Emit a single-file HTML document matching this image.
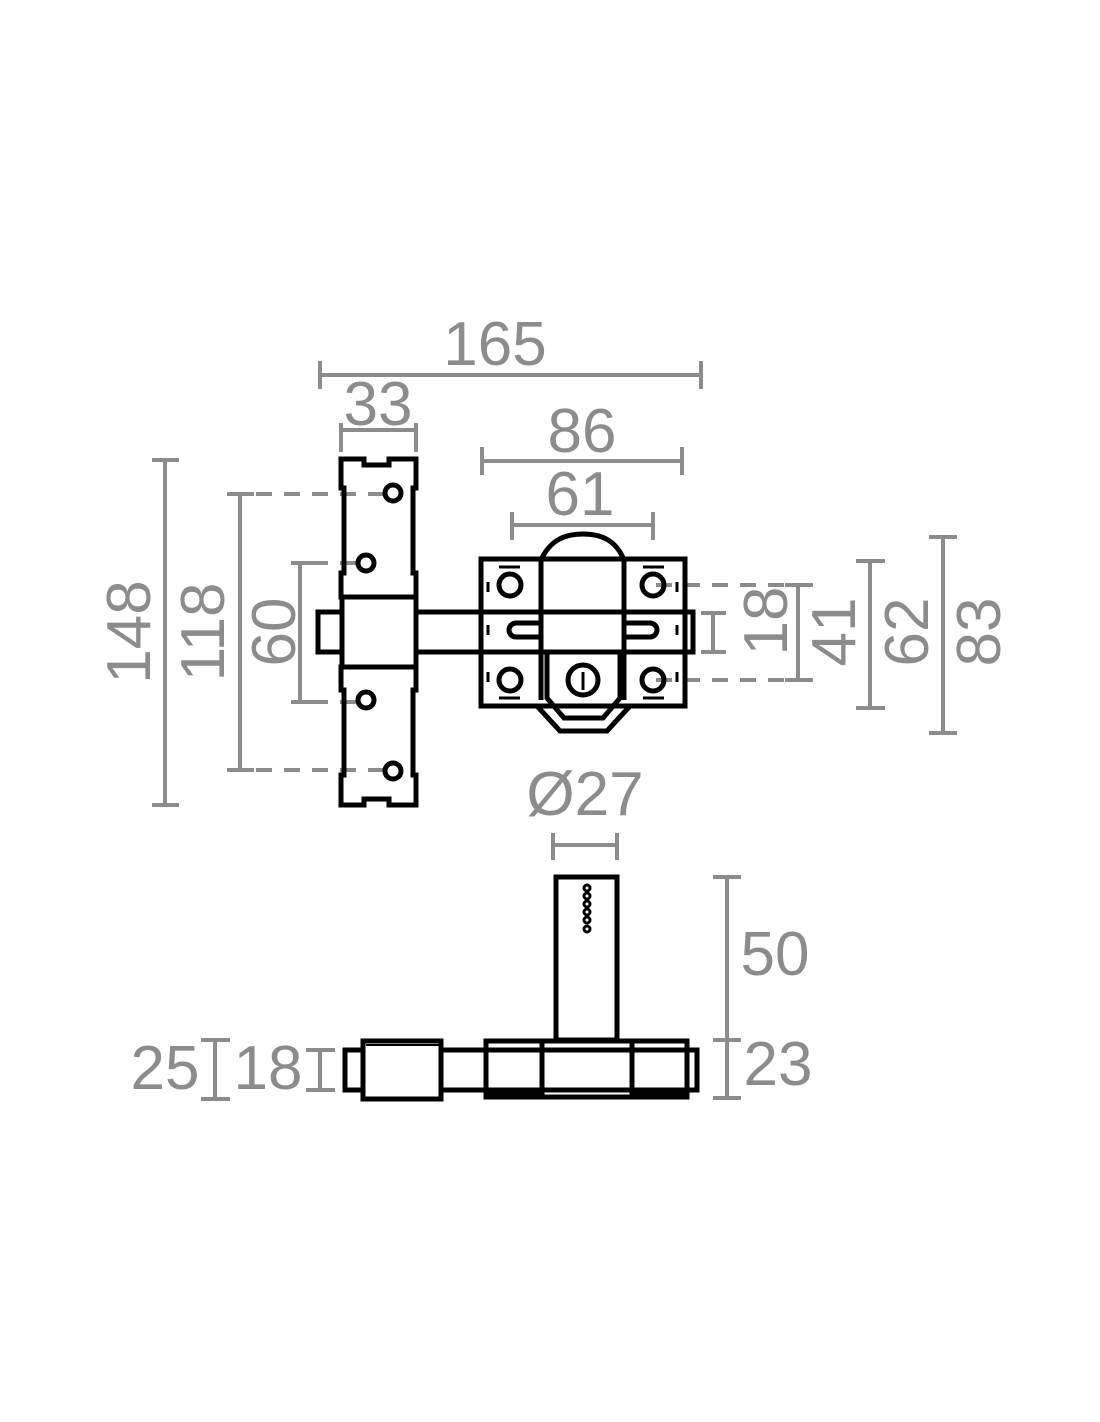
<!DOCTYPE html>
<html><head><meta charset="utf-8"><style>html,body{margin:0;padding:0;background:#fff}svg{display:block}</style></head>
<body>
<svg width="1100" height="1422" viewBox="0 0 1100 1422" xmlns="http://www.w3.org/2000/svg">
<g fill="none" stroke="#8c8c8c" stroke-width="4">
<path d="M320 375H701M320 361V389M701 361V389"/>
<path d="M341 430H416M341 423V452M416 423V452"/>
<path d="M482 461H682M482 447V475M682 447V475"/>
<path d="M512 525H653M512 512V540M653 512V540"/>
<path d="M165 460V805M152 460H179M152 805H179"/>
<path d="M240 494V770M227 494H254M227 770H254"/>
<path d="M300 563V702M291 563H312M291 702H312"/>
<path d="M713 613V652M701 613H726M701 652H726"/>
<path d="M798 585V680M785 585H813M785 680H813"/>
<path d="M870 561V708M856 561H885M856 708H885"/>
<path d="M943 537V733M929 537H957M929 733H957"/>
<path d="M553 845H617M553 833V860M617 833V860"/>
<path d="M727 877V1098M713 877H741M713 1040H741M713 1098H741"/>
<path d="M215 1040V1099M201 1040H230M201 1099H230"/>
<path d="M320 1050V1090M306 1050H335M306 1090H335"/>
<g stroke-dasharray="16 12">
<path d="M256 494H390M256 770H390M312 563H366M312 702H366"/>
<path d="M656 585H812M656 680H812"/>
</g>
</g>
<g fill="#8c8c8c" font-family="Liberation Sans, sans-serif" font-size="62" text-anchor="middle">
<text x="495" y="365">165</text>
<text x="378" y="425">33</text>
<text x="582" y="452">86</text>
<text x="580" y="515">61</text>
<text x="585" y="815">Ø27</text>
<text x="775" y="975">50</text>
<text x="778" y="1085">23</text>
<text x="165" y="1089">25</text>
<text x="268" y="1089">18</text>
<text transform="translate(150 632) rotate(-90)">148</text>
<text transform="translate(224 632) rotate(-90)">118</text>
<text transform="translate(295 632) rotate(-90)">60</text>
<text transform="translate(787 621) rotate(-90)">18</text>
<text transform="translate(855 632) rotate(-90)">41</text>
<text transform="translate(928 632) rotate(-90)">62</text>
<text transform="translate(1000 632) rotate(-90)">83</text>
</g>
<g fill="none" stroke="#000" stroke-width="5">
<path d="M341 459H364V465H389V459H416V488H413V573H416V597H341V573H344V488H341Z"/>
<path d="M341 667H416V690H413V775H416V805H389V799H364V805H341V775H344V690H341Z"/>
<rect x="342" y="597" width="74" height="70"/>
<rect x="318" y="612" width="24" height="40"/>
<path d="M416 612H693V652H416"/>
<rect x="685" y="612" width="8" height="40"/>
<circle cx="393" cy="493" r="8"/><circle cx="366" cy="563" r="8"/>
<circle cx="366" cy="700" r="8"/><circle cx="393" cy="771" r="8"/>
<rect x="481" y="559" width="204" height="147"/>
<path d="M541 559V700M624 559V700"/>
<path d="M541 560C550 540 565 534 583 534C601 534 616 540 624 560"/>
<path d="M547 652H620V698L603 718H564L547 698Z"/>
<path d="M537 706L560 731H607L630 706"/>
<circle cx="583" cy="680" r="15"/>
<path d="M583 672V690" stroke-width="3"/>
<circle cx="510" cy="585" r="11"/><circle cx="653" cy="585" r="11"/>
<circle cx="510" cy="680" r="11"/><circle cx="653" cy="680" r="11"/>
<path d="M541 623H516A7 7 0 0 0 516 637H541"/>
<path d="M624 623H650A7 7 0 0 1 650 637H624"/>
<path d="M499 567H520M643 567H664M499 698H520M643 698H664" stroke-width="3"/>
<path d="M488 582V592M488 672V682M677 582V592M677 672V682M488 625V635M677 625V635" stroke-width="3"/>
<rect x="556" y="877" width="61" height="163"/>
<g stroke-width="3"><circle cx="587" cy="888" r="3"/><circle cx="587" cy="896" r="3"/><circle cx="587" cy="904" r="3"/><circle cx="587" cy="912" r="3"/><circle cx="587" cy="920" r="3"/><circle cx="587" cy="929" r="3"/></g>
<rect x="345" y="1050" width="18" height="40"/>
<rect x="363" y="1041" width="78" height="58"/>
<path d="M366 1045H440" stroke-width="2"/>
<path d="M441 1050H486M441 1090H486"/>
<rect x="486" y="1041" width="201" height="56"/>
<path d="M486 1050H687M486 1090H687M542 1041V1097M632 1041V1097"/>
<rect x="687" y="1050" width="10" height="40"/>
</g>
<rect x="486" y="1092" width="56" height="7" fill="#000"/>
<rect x="632" y="1092" width="55" height="7" fill="#000"/>
</svg>
</body></html>
